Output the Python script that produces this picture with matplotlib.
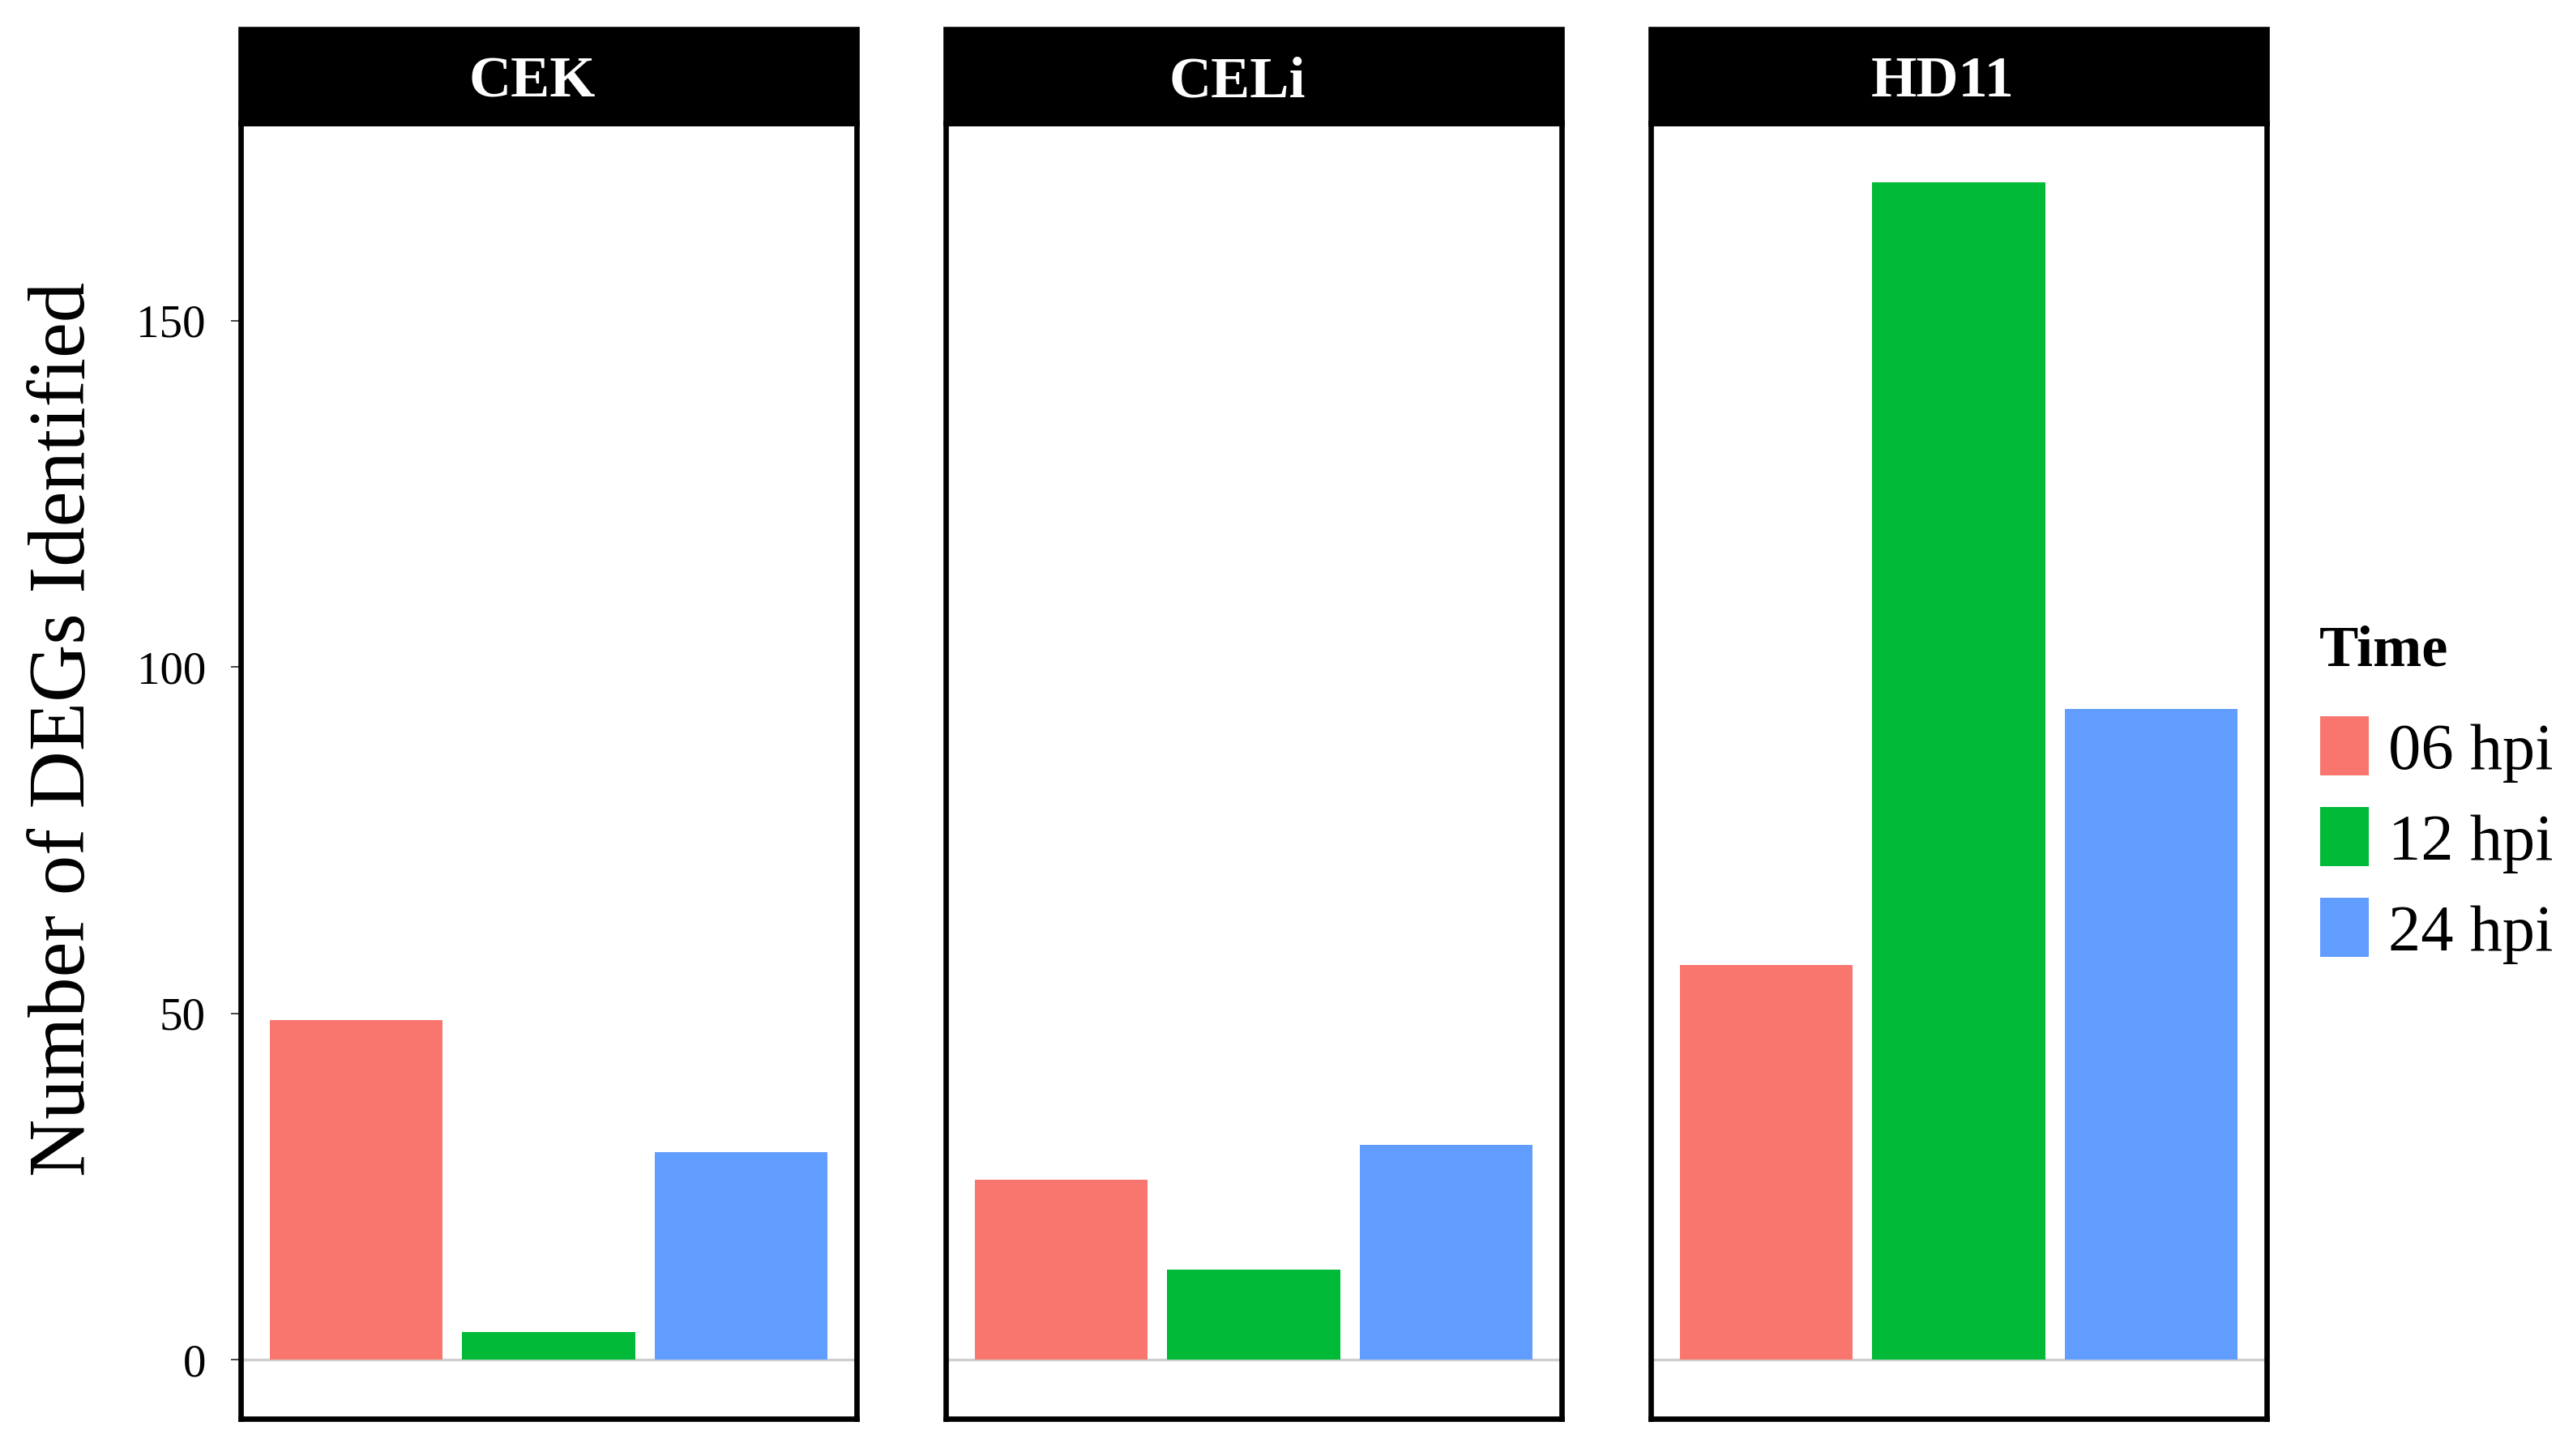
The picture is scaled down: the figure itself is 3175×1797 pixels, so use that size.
import numpy as np
import matplotlib.pyplot as plt
from matplotlib.patches import Rectangle

plt.rcParams.update({
    "font.family": ["Liberation Serif", "DejaVu Serif"],
    "axes.linewidth": 4.8,
})

# data
CELLS = ["CEK", "CELi", "HD11"]
TIMES = ["06 hpi", "12 hpi", "24 hpi"]
COLORS = ["#F8766D", "#00BA38", "#619CFF"]
CEK = [49, 4, 30]
CELI = [26, 13, 31]
HD11 = [57, 170, 94]
YTICKS = [0, 50, 100, 150]

W, H = 3175, 1797
fig = plt.figure(figsize=(W / 100, H / 100), dpi=100)

lefts = [297, 1167, 2037]
pw, top, bot = 760, 152, 1751
strip_h = (top - 36) / (bot - top)

ymax = max(CEK + CELI + HD11)
pad = ymax * 0.05

for i, (cell, vals) in enumerate(zip(CELLS, [CEK, CELI, HD11])):
    ax = fig.add_axes([lefts[i] / W, 1 - bot / H, pw / W, (bot - top) / H])
    x = np.arange(1, len(TIMES) + 1)
    ax.bar(x, vals, width=0.9, color=COLORS, edgecolor="none", zorder=2)
    ax.axhline(0, color="#cfcfcf", lw=2.4, zorder=1)
    ax.set_xlim(0.4, len(TIMES) + 0.6)
    ax.set_ylim(-pad, ymax + pad)
    ax.set_xticks([])
    for s in ax.spines.values():
        s.set_color("black")
    if i == 0:
        ax.set_yticks(YTICKS)
        ax.set_yticklabels([str(t) for t in YTICKS], fontsize=41)
        ax.tick_params(axis="y", length=9, width=1.4, color="#444444", pad=22)
    else:
        ax.set_yticks([])
    # facet strip
    ax.add_patch(Rectangle((0, 1), 1, strip_h, transform=ax.transAxes,
                           facecolor="black", edgecolor="black", lw=4.8,
                           clip_on=False, zorder=5))
    ax.text(0.474, 1 + strip_h / 2, cell, transform=ax.transAxes,
            ha="center", va="center_baseline", color="white",
            fontsize=52, fontweight="bold", zorder=6)

fig.text(80 / W, 1 - 900 / H, "Number of DEGs Identified", rotation=90,
         ha="center", va="center", fontsize=71)

# legend
fig.text(2862 / W, 1 - 822 / H, "Time", ha="left", va="baseline",
         fontsize=52, fontweight="bold")
for k, (lab, col) in enumerate(zip(TIMES, COLORS)):
    yc = 921 + k * 112
    fig.add_artist(Rectangle((2863 / W, 1 - (yc + 36) / H), 60 / W, 73 / H,
                             transform=fig.transFigure, facecolor=col,
                             edgecolor="none"))
    fig.text(2947 / W, 1 - (yc + 8) / H, lab, ha="left", va="center",
             fontsize=58)

fig.savefig("out.png", dpi=100, facecolor="white")
